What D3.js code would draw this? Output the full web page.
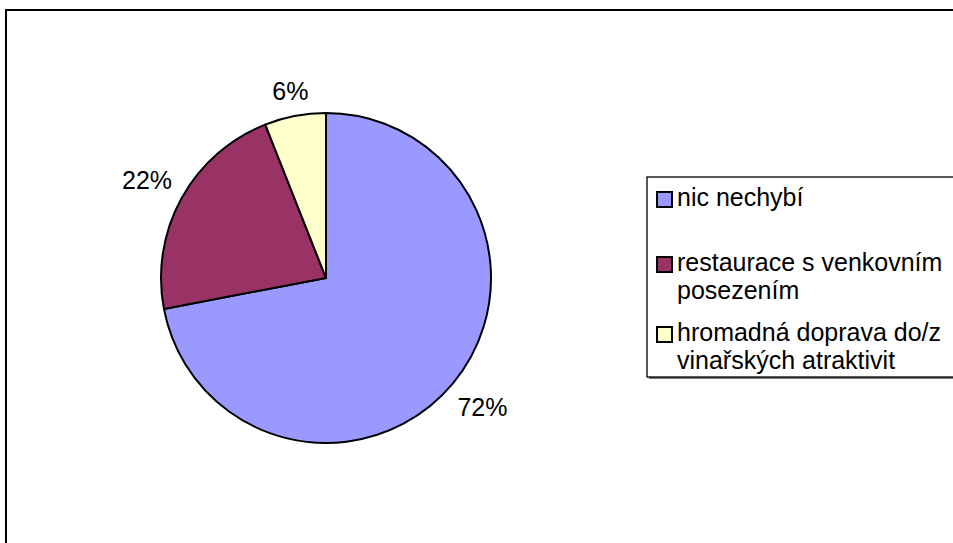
<!DOCTYPE html>
<html><head><meta charset="utf-8">
<script src="https://cdn.jsdelivr.net/npm/d3@7"></script>
<style>body{margin:0;background:#fff}svg{display:block}text{font-family:"Liberation Sans",Arial,sans-serif;fill:#000}</style>
</head><body>
<svg id="c" width="953" height="543"></svg>
<script>
const categories = ["nic nechybí", "restaurace s venkovním posezením", "hromadná doprava do/z vinařských atraktivit"];
const legendLines = [["nic nechybí"], ["restaurace s venkovním", "posezením"], ["hromadná doprava do/z", "vinařských atraktivit"]];
const values = [72, 22, 6];
const labels = ["72%", "22%", "6%"];
const colors = ["#9999FF", "#993366", "#FFFFCC"];

const svg = d3.select("#c");
// outer frame (extends beyond view on right and bottom)
svg.append("rect").attr("x", 6).attr("y", 10).attr("width", 1000).attr("height", 600)
  .attr("fill", "#fff").attr("stroke", "#000").attr("stroke-width", 2);

const cx = 326, cy = 278, r = 165;
const pie = d3.pie().sort(null).value(d => d)(values);
const arc = d3.arc().innerRadius(0).outerRadius(r);
const g = svg.append("g").attr("transform", `translate(${cx},${cy})`);
g.selectAll("path").data(pie).join("path")
  .attr("d", arc).attr("fill", (d, i) => colors[i])
  .attr("stroke", "#000").attr("stroke-width", 2).attr("stroke-linejoin", "round");

// labels placed outside by bounding-box distance
const fs = 25, capH = 18, gap = 13;
g.selectAll("text.lbl").data(pie).join("text")
  .attr("class", "lbl").attr("text-anchor", "middle").attr("font-size", fs)
  .text((d, i) => labels[i])
  .each(function(d) {
    const w = this.getComputedTextLength();
    const a = (d.startAngle + d.endAngle) / 2;
    const ux = Math.sin(a), uy = -Math.cos(a);
    const proj = Math.abs(ux) * w / 2 + Math.abs(uy) * capH / 2;
    const dist = r + gap + proj;
    d3.select(this).attr("x", ux * dist).attr("y", uy * dist + capH / 2);
  });

// legend
const lx = 647, ly = 177;
svg.append("rect").attr("x", lx + 2).attr("y", ly + 2).attr("width", 400).attr("height", 200).attr("fill", "#777");
svg.append("rect").attr("x", lx).attr("y", ly).attr("width", 400).attr("height", 200)
  .attr("fill", "#fff").attr("stroke", "#000").attr("stroke-width", 1.3);
const baselines = [206, 271, 341];
const lineH = 28;
categories.forEach((c, i) => {
  const b = baselines[i];
  svg.append("rect").attr("x", 657).attr("y", b - 14).attr("width", 15).attr("height", 15)
    .attr("fill", colors[i]).attr("stroke", "#000").attr("stroke-width", 2);
  const t = svg.append("text").attr("x", 677).attr("y", b).attr("font-size", fs);
  legendLines[i].forEach((ln, j) => {
    t.append("tspan").attr("x", 677).attr("y", b + j * lineH).text(ln);
  });
});
</script>
</body></html>
